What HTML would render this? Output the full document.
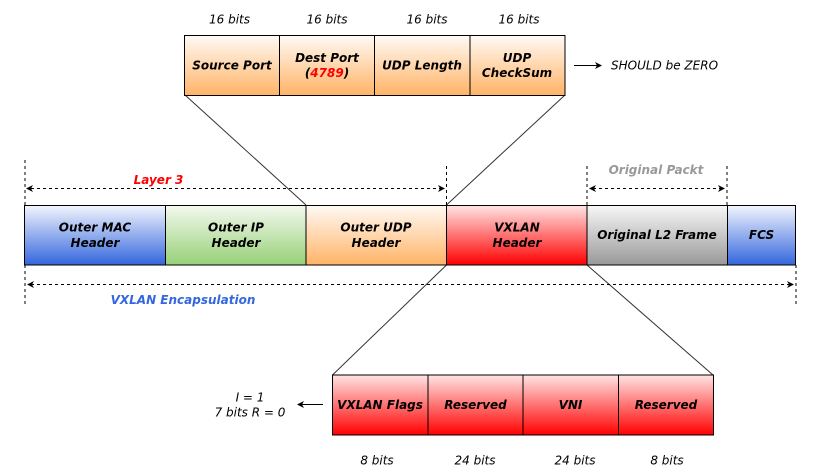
<!DOCTYPE html>
<html><head><meta charset="utf-8"><style>
html,body{margin:0;padding:0;background:#fff;}
svg{display:block;}
.b{font-family:"DejaVu Sans","Liberation Sans",sans-serif;font-weight:bold;font-style:italic;font-size:12px;fill:#000;}
.n{font-family:"DejaVu Sans","Liberation Sans",sans-serif;font-style:italic;font-size:12px;fill:#000;}
</style></head><body>
<svg width="817" height="472" viewBox="0 0 817 472" xmlns="http://www.w3.org/2000/svg">
<defs>
<linearGradient id="gBlue" x1="0" y1="0" x2="0" y2="1"><stop offset="0" stop-color="#f2f5fd"/><stop offset="1" stop-color="#3366dd"/></linearGradient>
<linearGradient id="gGreen" x1="0" y1="0" x2="0" y2="1"><stop offset="0" stop-color="#f3f9ef"/><stop offset="1" stop-color="#97d077"/></linearGradient>
<linearGradient id="gOrange" x1="0" y1="0" x2="0" y2="1"><stop offset="0" stop-color="#fffaf5"/><stop offset="1" stop-color="#ffb366"/></linearGradient>
<linearGradient id="gRed" x1="0" y1="0" x2="0" y2="1"><stop offset="0" stop-color="#ffe4e4"/><stop offset="1" stop-color="#ff0000"/></linearGradient>
<linearGradient id="gGray" x1="0" y1="0" x2="0" y2="1"><stop offset="0" stop-color="#f7f7f7"/><stop offset="1" stop-color="#999999"/></linearGradient>
</defs>

<!-- connector lines -->
<g stroke="#333" stroke-width="1" fill="none">
<line x1="185" y1="95" x2="306" y2="205"/>
<line x1="565" y1="95" x2="446.5" y2="205"/>
<line x1="446.5" y1="265" x2="332.5" y2="375"/>
<line x1="587" y1="265" x2="713" y2="375"/>
</g>

<!-- top UDP box -->
<g stroke="#000" stroke-width="1">
<rect x="184.5" y="35.5" width="95" height="60" fill="url(#gOrange)"/>
<rect x="279.5" y="35.5" width="95" height="60" fill="url(#gOrange)"/>
<rect x="374.5" y="35.5" width="95.5" height="60" fill="url(#gOrange)"/>
<rect x="470" y="35.5" width="95" height="60" fill="url(#gOrange)"/>
</g>
<text class="n" x="229.5" y="23.5" text-anchor="middle">16 bits</text>
<text class="n" x="327" y="23.5" text-anchor="middle">16 bits</text>
<text class="n" x="427" y="23.5" text-anchor="middle">16 bits</text>
<text class="n" x="519" y="23.5" text-anchor="middle">16 bits</text>
<text class="b" x="232" y="69.5" text-anchor="middle">Source Port</text>
<text class="b" x="327" y="62" text-anchor="middle">Dest Port</text>
<text class="b" x="327" y="77" text-anchor="middle">(<tspan fill="#ff0000">4789</tspan>)</text>
<text class="b" x="422" y="69.5" text-anchor="middle">UDP Length</text>
<text class="b" x="517" y="62" text-anchor="middle">UDP</text>
<text class="b" x="517" y="77" text-anchor="middle">CheckSum</text>

<!-- should be zero arrow -->
<line x1="574" y1="65.5" x2="598" y2="65.5" stroke="#000" stroke-width="1"/>
<path d="M602,65.5 L595,62 L597,65.5 L595,69 Z" fill="#000"/>
<text class="n" x="611" y="69.5">SHOULD be ZERO</text>

<!-- main row -->
<g stroke="#000" stroke-width="1">
<rect x="24.5" y="205.5" width="141" height="59.5" fill="url(#gBlue)"/>
<rect x="165.5" y="205.5" width="140.5" height="59.5" fill="url(#gGreen)"/>
<rect x="306" y="205.5" width="140.5" height="59.5" fill="url(#gOrange)"/>
<rect x="446.5" y="205.5" width="140.5" height="59.5" fill="url(#gRed)"/>
<rect x="587" y="205.5" width="140.5" height="59.5" fill="url(#gGray)"/>
<rect x="727.5" y="205.5" width="68" height="59.5" fill="url(#gBlue)"/>
</g>
<text class="b" x="95" y="231.5" text-anchor="middle">Outer MAC</text>
<text class="b" x="95" y="247" text-anchor="middle">Header</text>
<text class="b" x="236" y="231.5" text-anchor="middle">Outer IP</text>
<text class="b" x="236" y="247" text-anchor="middle">Header</text>
<text class="b" x="376" y="231.5" text-anchor="middle">Outer UDP</text>
<text class="b" x="376" y="247" text-anchor="middle">Header</text>
<text class="b" x="517" y="231.5" text-anchor="middle">VXLAN</text>
<text class="b" x="517" y="247" text-anchor="middle">Header</text>
<text class="b" x="657" y="239" text-anchor="middle">Original L2 Frame</text>
<text class="b" x="761.5" y="239" text-anchor="middle">FCS</text>

<!-- dashed guides -->
<g stroke="#000" stroke-width="1" stroke-dasharray="3 3" fill="none">
<line x1="25" y1="160" x2="25" y2="205"/>
<line x1="446.5" y1="166" x2="446.5" y2="205"/>
<line x1="587" y1="166" x2="587" y2="205"/>
<line x1="727" y1="166" x2="727" y2="205"/>
<line x1="25" y1="265" x2="25" y2="305"/>
<line x1="796" y1="265" x2="796" y2="305"/>
<line x1="31" y1="188.5" x2="440" y2="188.5"/>
<line x1="593" y1="188.5" x2="721" y2="188.5"/>
<line x1="31" y1="284.5" x2="790" y2="284.5"/>
</g>
<g fill="#000">
<path d="M26,188.5 L33,185 L31,188.5 L33,192 Z"/>
<path d="M445,188.5 L438,185 L440,188.5 L438,192 Z"/>
<path d="M589,188.5 L596,185 L594,188.5 L596,192 Z"/>
<path d="M725,188.5 L718,185 L720,188.5 L718,192 Z"/>
<path d="M27,284.5 L34,281 L32,284.5 L34,288 Z"/>
<path d="M794,284.5 L787,281 L789,284.5 L787,288 Z"/>
</g>
<text class="b" x="158.5" y="184" text-anchor="middle" fill="#ff0000" style="fill:#ff0000">Layer 3</text>
<text class="b" x="656" y="174" text-anchor="middle" style="fill:#999999">Original Packt</text>
<text class="b" x="183" y="304" text-anchor="middle" style="fill:#3366e0">VXLAN Encapsulation</text>

<!-- bottom VXLAN header box -->
<g stroke="#000" stroke-width="1">
<rect x="332.5" y="375" width="95.5" height="60" fill="url(#gRed)"/>
<rect x="428" y="375" width="95" height="60" fill="url(#gRed)"/>
<rect x="523" y="375" width="95.5" height="60" fill="url(#gRed)"/>
<rect x="618.5" y="375" width="95" height="60" fill="url(#gRed)"/>
</g>
<text class="b" x="380" y="409" text-anchor="middle">VXLAN Flags</text>
<text class="b" x="475.5" y="409" text-anchor="middle">Reserved</text>
<text class="b" x="570.5" y="409" text-anchor="middle">VNI</text>
<text class="b" x="666" y="409" text-anchor="middle">Reserved</text>
<text class="n" x="377" y="464.5" text-anchor="middle">8 bits</text>
<text class="n" x="475" y="464.5" text-anchor="middle">24 bits</text>
<text class="n" x="575" y="464.5" text-anchor="middle">24 bits</text>
<text class="n" x="667" y="464.5" text-anchor="middle">8 bits</text>

<!-- flags note arrow -->
<line x1="300" y1="404.5" x2="323" y2="404.5" stroke="#000" stroke-width="1"/>
<path d="M297,404.5 L304,401 L302,404.5 L304,408 Z" fill="#000"/>
<text class="n" x="250" y="401.5" text-anchor="middle">I = 1</text>
<text class="n" x="250" y="416.5" text-anchor="middle">7 bits R = 0</text>
</svg>
</body></html>
